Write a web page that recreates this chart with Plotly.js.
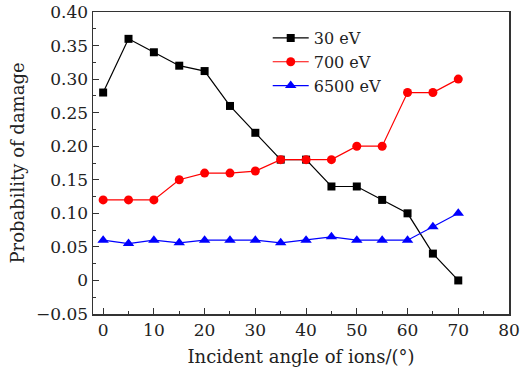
<!DOCTYPE html>
<html><head><meta charset="utf-8">
<script src="https://cdn.plot.ly/plotly-3.0.1.min.js"></script>
<style>html,body{margin:0;padding:0;background:#fff}#c{width:520px;height:374px}</style>
</head><body><div id="c"></div>
<script>
const angles = [0,5,10,15,20,25,30,35,40,45,50,55,60,65,70];
const e30 = [0.28,0.36,0.34,0.32,0.312,0.26,0.22,0.18,0.18,0.14,0.14,0.12,0.10,0.04,0.00];
const e700 = [0.12,0.12,0.12,0.15,0.16,0.16,0.163,0.18,0.18,0.18,0.20,0.20,0.28,0.28,0.30];
const e6500 = [0.06,0.055,0.06,0.056,0.06,0.06,0.06,0.056,0.06,0.065,0.06,0.06,0.06,0.08,0.10];
const yTickVals = [-0.05,0,0.05,0.10,0.15,0.20,0.25,0.30,0.35,0.40];
const yTickText = ['\u22120.05','0','0.05','0.10','0.15','0.20','0.25','0.30','0.35','0.40'];
const xTickVals = [0,10,20,30,40,50,60,70,80];
const xTickText = ['0','10','20','30','40','50','60','70','80'];
const yMinor = [-0.025,0.025,0.075,0.125,0.175,0.225,0.275,0.325,0.375];
const xMinor = [5,15,25,35,45,55,65,75];

const tickFont = {family:'DejaVu Serif', size:17, color:'#222'};
const titleFont = {family:'DejaVu Serif', size:18, color:'#222'};
const legFont = {family:'DejaVu Serif', size:16, color:'#222'};
const traces = [
 {x:angles,y:e30,name:'30 eV',mode:'lines+markers',line:{color:'#000',width:1.2},marker:{symbol:'square',size:8,color:'#000'}},
 {x:angles,y:e700,name:'700 eV',mode:'lines+markers',line:{color:'#ff0000',width:1.2},marker:{symbol:'circle',size:9,color:'#ff0000'}},
 {x:angles,y:e6500,name:'6500 eV',mode:'lines+markers',line:{color:'#0000ff',width:1.2},marker:{symbol:'triangle-up',size:10,color:'#0000ff'}}
];
const axisCommon = {showline:true,linecolor:'#333',linewidth:1.5,mirror:true,showgrid:false,zeroline:false,
  ticks:'inside',ticklen:6,tickwidth:1,tickcolor:'#333',tickfont:tickFont,tickmode:'array'};
const layout = {
 width:520,height:374,margin:{l:93,r:11,t:12,b:60},paper_bgcolor:'#fff',plot_bgcolor:'#fff',
 font:tickFont,showlegend:true,
 legend:{x:0.42,y:0.97,xanchor:'left',yanchor:'top',bgcolor:'rgba(0,0,0,0)',font:legFont,tracegroupgap:0,itemwidth:36},
 xaxis:Object.assign({},axisCommon,{range:[-2,80],tickvals:xTickVals,ticktext:xTickText,
   minor:{tickvals:xMinor,ticks:'inside',ticklen:3,tickcolor:'#333'},
   title:{text:'Incident angle of ions/(°)',font:titleFont,standoff:11}}),
 yaxis:Object.assign({},axisCommon,{range:[-0.05,0.40],tickvals:yTickVals,ticktext:yTickText,
   minor:{tickvals:yMinor,ticks:'inside',ticklen:3,tickcolor:'#333'},
   title:{text:'Probability of damage',font:titleFont,standoff:6}})
};
Plotly.newPlot('c',traces,layout,{displayModeBar:false,staticPlot:true});
</script></body></html>
